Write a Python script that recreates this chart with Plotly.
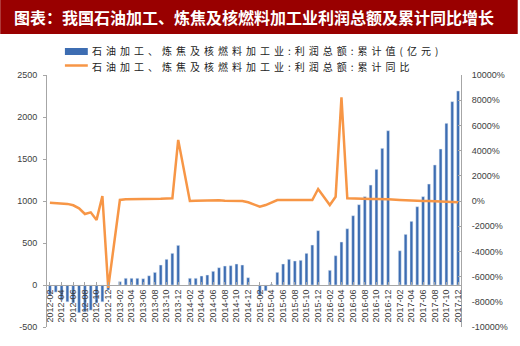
import plotly.graph_objects as go

# ---------------- data ----------------
# monthly categories 2012-02 .. 2017-12 (January values are not published)
months = [f"{y}-{m:02d}" for y in range(2012, 2018) for m in range(1, 13)][1:]

# cumulative total profit (100 million yuan)
profit = [
    -120, -85, -180, -200, -215, -330, -320, -300, -215, -200, -60,          # 2012-02..12
    None, 40, 80, 80, 80, 75, 110, 150, 238, 306, 377, 472,                  # 2013
    None, 80, 80, 107, 119, 163, 206, 226, 230, 250, 238, 87,                # 2014
    None, -120, -70, 10, 151, 250, 306, 286, 294, 377, 476, 647,             # 2015
    None, 175, 349, 512, 670, 825, 956, 1052, 1190, 1377, 1627, 1837,        # 2016
    None, 408, 603, 758, 932, 1052, 1202, 1429, 1619, 1925, 2183, 2310,      # 2017
]

# cumulative year-on-year growth (%)
yoy = [
    -130, -150, -180, -230, -340, -580, -1030, -900, -1500, 400, -6900,      # 2012-02..12
    None, 80, 130, 130, 150, 150, 150, 170, 180, 200, 210, 4850,             # 2013
    None, 0, 20, 30, 50, 80, 50, 20, 0, 0, 0, -100,                          # 2014
    None, -450, -320, -100, 80, 80, 80, 60, 60, 70, 80, 950,                 # 2015
    None, -320, 340, 8230, 210, 210, 180, 170, 160, 150, 150, 140,           # 2016
    None, 80, 50, 30, 20, 0, 0, -20, -30, -50, -80, -100,                    # 2017
]

x_tick_labels = months[::2]
left_ticks = [-500, 0, 500, 1000, 1500, 2000, 2500]
left_tick_labels = ["-500", "0", "500", "1000", "1500", "2000", "2500"]
right_ticks = [-10000, -8000, -6000, -4000, -2000, 0, 2000, 4000, 6000, 8000, 10000]
right_tick_labels = ["-10000%", "-8000%", "-6000%", "-4000%", "-2000%", "0%",
                     "2000%", "4000%", "6000%", "8000%", "10000%"]

title_text = "图表：我国石油加工、炼焦及核燃料加工业利润总额及累计同比增长"
name_bar = "石油加工、炼焦及核燃料加工业:利润总额:累计值(亿元)"
name_line = "石油加工、炼焦及核燃料加工业:利润总额:累计同比"

# ---------------- style ----------------
W, H = 520, 346
ML, MR, MT, MB = 47, 57, 75, 19
PW, PH = W - ML - MR, H - MT - MB
BLUE = "#3D6DB2"
ORANGE = "#F79646"
AXIS = "#A6A6A6"
TXT = "#404040"
TICKFONT = dict(family="Liberation Sans, Arial, sans-serif", size=9, color=TXT)
CJK = "Noto Sans CJK SC, sans-serif"


def px_x(p):
    return (p - ML) / PW


def px_y(p):
    return (H - MB - p) / PH


fig = go.Figure()
fig.add_trace(go.Bar(x=months, y=profit, name=name_bar, marker_color=BLUE,
                     yaxis="y"))
fig.add_trace(go.Scatter(x=months, y=yoy, name=name_line, mode="lines",
                         line=dict(color=ORANGE, width=2.5), connectgaps=True,
                         yaxis="y2"))

fig.update_layout(
    width=W, height=H,
    margin=dict(l=ML, r=MR, t=MT, b=MB, pad=0),
    paper_bgcolor="white", plot_bgcolor="white",
    showlegend=False,
    bargap=0.5,
    xaxis=dict(type="category", categoryorder="array", categoryarray=months,
               range=[-0.5, len(months) - 0.5],
               tickmode="array", tickvals=x_tick_labels, ticktext=x_tick_labels,
               tickangle=-90, tickfont=TICKFONT,
               showline=True, linecolor=AXIS, linewidth=1,
               ticks="inside", ticklen=3, tickcolor=AXIS,
               showgrid=False, zeroline=False,
               anchor="free", position=(0 - (-500)) / 3000),
    yaxis=dict(range=[-500, 2500], tickmode="array", tickvals=left_ticks,
               ticktext=left_tick_labels, tickfont=TICKFONT,
               showline=True, linecolor=AXIS, linewidth=1,
               ticks="outside", ticklen=3, tickcolor=AXIS,
               showgrid=False, zeroline=False, ticklabelstandoff=4),
    yaxis2=dict(range=[-10000, 10000], overlaying="y", side="right",
                tickmode="array", tickvals=right_ticks, ticktext=right_tick_labels,
                tickfont=TICKFONT,
                showline=True, linecolor=AXIS, linewidth=1,
                ticks="inside", ticklen=3, tickcolor=AXIS,
                showgrid=False, zeroline=False, ticklabelstandoff=8),
)

# title banner
fig.add_shape(type="rect", xref="paper", yref="paper",
              x0=px_x(0), x1=px_x(W), y0=px_y(34), y1=px_y(0),
              fillcolor="#990000", line_width=0, layer="above")
fig.add_annotation(xref="paper", yref="paper", x=px_x(12), y=px_y(17),
                   xanchor="left", yanchor="middle", showarrow=False,
                   text=f"<b>{title_text}</b>",
                   font=dict(family=CJK, size=16, color="white"))

# legend (drawn manually to match the wide bar swatch)
fig.add_shape(type="rect", xref="paper", yref="paper",
              x0=px_x(65), x1=px_x(88), y0=px_y(55), y1=px_y(48),
              fillcolor=BLUE, line_width=0, layer="above")
fig.add_shape(type="line", xref="paper", yref="paper",
              x0=px_x(65), x1=px_x(88), y0=px_y(65.5), y1=px_y(65.5),
              line=dict(color=ORANGE, width=2.5), layer="above")
for label, yc in ((name_bar, 51), (name_line, 66.2)):
    fig.add_annotation(xref="paper", yref="paper", x=px_x(91), y=px_y(yc),
                       xanchor="left", yanchor="middle", showarrow=False,
                       align="left", borderpad=0,
                       text=f'<span style="letter-spacing:4px">{label}</span>',
                       font=dict(family=CJK, size=10, color="#222222"))

fig.write_html("out.html")
